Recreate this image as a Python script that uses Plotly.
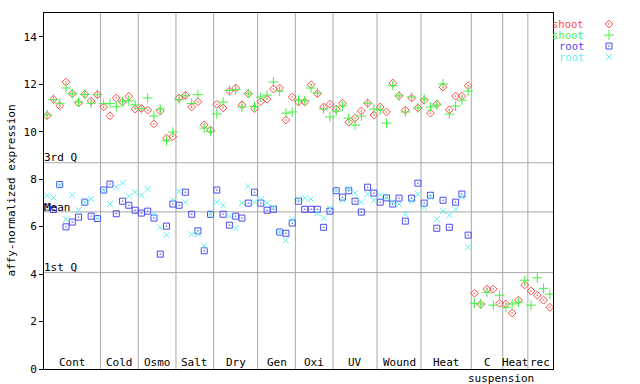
import plotly.graph_objects as go

# ---- data ----
group_names = ["Cont", "Cold", "Osmo", "Salt", "Dry", "Gen", "Oxi", "UV", "Wound", "Heat", "C", "Heat", "rec"]
group_sizes = [9, 6, 6, 6, 7, 6, 6, 7, 7, 8, 5, 4, 4]
sub_label = "suspension"

shoot_red = [10.68, 11.37, 11.09, 12.09, 11.60, 11.21, 11.58, 11.29, 11.56,
             11.04, 10.67, 11.42, 11.25, 11.49, 10.95,
             10.98, 10.91, 10.33, 10.87, 9.73, 9.79,
             11.42, 11.53, 11.04, 11.26, 10.29, 10.07,
             11.15, 11.00, 11.71, 11.84, 11.13, 11.60, 10.97,
             11.27, 11.37, 11.80, 11.84, 10.49, 11.46,
             11.25, 11.25, 11.98, 11.60, 11.04, 11.16,
             10.95, 11.20, 10.40, 10.57, 10.87, 11.20, 10.70,
             11.04, 10.83, 12.05, 11.51, 10.91, 11.42, 11.00,
             11.32, 10.78, 11.16, 11.88, 10.92, 11.50, 11.50, 11.94,
             3.19, 2.73, 3.37, 3.37, 2.77,
             2.74, 2.36, 2.90, 3.54,
             3.29, 3.11, 2.90, 2.60]

shoot_green = [10.71, 11.35, 11.20, 11.84, 11.60, 11.25, 11.57, 11.20, 11.56,
               11.18, 11.18, 11.05, 11.26, 11.30, 11.13,
               10.97, 11.42, 10.66, 10.95, 9.62, 9.98,
               11.35, 11.51, 11.19, 11.56, 10.15, 10.01,
               10.75, 11.25, 11.74, 11.77, 11.04, 11.60, 11.06,
               11.46, 11.54, 12.09, 11.71, 10.78, 10.83,
               11.33, 11.30, 11.84, 11.63, 10.95, 10.62,
               10.87, 11.08, 10.57, 10.28, 10.66, 11.20, 10.95,
               10.91, 10.36, 11.94, 11.51, 10.83, 11.46, 11.00,
               11.37, 11.04, 11.12, 12.01, 10.74, 11.08, 11.33, 11.71,
               2.77, 2.74, 3.23, 2.69, 3.11,
               2.60, 2.74, 2.81, 3.74,
               2.69, 3.84, 3.40, 3.15]

root_blue = [6.82, 6.72, 7.77, 5.99, 6.19, 6.40, 7.03, 6.44, 6.34,
             7.54, 7.79, 6.54, 7.07, 6.90, 6.69,
             6.57, 6.65, 6.36, 4.84, 6.02, 6.95,
             6.90, 7.45, 6.52, 5.82, 4.98, 6.52,
             7.54, 6.52, 6.06, 6.44, 6.36, 6.99, 7.45,
             6.99, 6.69, 6.73, 5.77, 5.72, 6.15,
             7.07, 6.73, 6.73, 6.73, 5.97, 6.65,
             7.51, 7.24, 7.51, 7.07, 6.61, 7.66, 7.41,
             7.03, 7.21, 6.95, 7.20, 6.23, 7.20, 7.83,
             6.99, 7.32, 5.93, 7.11, 5.97, 7.03, 7.37, 5.64,
             None, None, None, None, None,
             None, None, None, None,
             None, None, None, None]

root_cyan = [7.31, 7.22, 7.75, 6.31, 7.32, 6.69, 7.03, 7.16, 6.36,
             7.52, 6.95, 7.66, 7.83, 7.28, 7.45,
             7.32, 7.58, 6.52, 5.97, 5.64, 7.11,
             7.49, 7.03, 5.68, 5.68, 5.19, 6.52,
             7.03, 6.90, 6.44, 5.93, 6.99, 7.70, 7.03,
             7.16, 6.99, 6.82, 5.77, 5.42, 6.31,
             7.16, 7.20, 7.16, 6.57, 6.36, 6.78,
             7.53, 7.11, 7.59, 7.41, 7.03, 7.37, 7.11,
             7.32, 7.24, 7.03, 6.95, 6.52, 7.07, 7.37,
             6.82, 7.24, 6.31, 6.65, 6.48, 6.73, 7.24, 5.13,
             None, None, None, None, None,
             None, None, None, None,
             None, None, None, None]

q3_value = 8.69
mean_value = 6.62
q1_value = 4.06
ref_labels = ["3rd Q", "Mean", "1st Q"]

y_ticks = [0, 2, 4, 6, 8, 10, 12, 14]
legend_names = ["shoot", "shoot", "root", "root"]

# ---- styling ----
FONT = "DejaVu Sans Mono"
RED, GREEN, BLUE, CYAN = "#ff4c4c", "#44f044", "#4a4af2", "#5ef0f0"
GRID = "#a8a8a8"

n = len(shoot_red)
xs = [i + 0.5 for i in range(n)]

series = [
    (shoot_red, RED, "diamond-open-dot", 6),
    (shoot_green, GREEN, "cross-thin-open", 7),
    (root_blue, BLUE, "square-open-dot", 6),
    (root_cyan, CYAN, "x-thin-open", 6),
]

fig = go.Figure()
for vals, col, sym, sz in series:
    fig.add_trace(go.Scatter(
        x=xs, y=vals, mode="markers", showlegend=False, hoverinfo="skip",
        marker=dict(symbol=sym, size=sz, color=col, line=dict(color=col, width=1)),
        xaxis="x", yaxis="y",
    ))

# legend markers (right-hand legend area, pixel-like coordinates)
leg_y = [24, 35, 46, 57]
for (vals, col, sym, sz), ly, name in zip(series, leg_y, legend_names):
    fig.add_trace(go.Scatter(
        x=[609], y=[ly], mode="markers", showlegend=False, hoverinfo="skip",
        marker=dict(symbol=sym, size=sz, color=col, line=dict(color=col, width=1)),
        xaxis="x2", yaxis="y4",
    ))

shapes = []
# group separators
b = 0
bounds = []
for s in group_sizes[:-1]:
    b += s
    bounds.append(b)
for bx in bounds:
    shapes.append(dict(type="line", xref="x", yref="paper", x0=bx, x1=bx, y0=0, y1=1,
                       line=dict(color=GRID, width=1), layer="below"))
for v in (q3_value, mean_value, q1_value):
    shapes.append(dict(type="line", xref="x", yref="y", x0=0, x1=n, y0=v, y1=v,
                       line=dict(color=GRID, width=1), layer="below"))

annotations = []
# group labels
start = 0
for name, s in zip(group_names, group_sizes):
    c = start + s / 2
    annotations.append(dict(x=c, y=0.0175, xref="x", yref="paper", text=name, showarrow=False,
                            font=dict(family=FONT, size=11, color="black"),
                            xanchor="center", yanchor="middle"))
    if name == "C":
        annotations.append(dict(x=c + 2.3, y=-0.026, xref="x", yref="paper", text=sub_label,
                                showarrow=False, font=dict(family=FONT, size=11, color="black"),
                                xanchor="center", yanchor="middle"))
    start += s

for lab, v, sh in zip(ref_labels, (q3_value, mean_value, q1_value), (5, 4, 5)):
    annotations.append(dict(x=0, y=v, xref="x", yref="y", text=lab, showarrow=False,
                            font=dict(family=FONT, size=11, color="black"),
                            xanchor="left", yanchor="middle", yshift=sh, xshift=-2))

# legend text
for (vals, col, sym, sz), ly, name in zip(series, leg_y, legend_names):
    annotations.append(dict(x=586, y=ly, xref="x2", yref="y4", text=name, showarrow=False,
                            font=dict(family=FONT, size=10.5, color=col),
                            xanchor="right", yanchor="middle"))

# y-axis title
annotations.append(dict(x=-0.056, y=0.5, xref="paper", yref="paper",
                        text="affy-normalized expression", textangle=-90, showarrow=False,
                        font=dict(family=FONT, size=11, color="black"),
                        xanchor="center", yanchor="middle"))

xdom = 509 / 596
fig.update_layout(
    width=640, height=384,
    margin=dict(l=44, r=0, t=13, b=15),
    paper_bgcolor="white", plot_bgcolor="white",
    font=dict(family=FONT, size=11, color="black"),
    xaxis=dict(domain=[0, xdom], range=[0, n], showgrid=False, zeroline=False,
               showticklabels=False, ticks="", showline=True, linecolor="black",
               linewidth=1, mirror=True, fixedrange=True),
    yaxis=dict(range=[0, 15], tickvals=y_ticks, ticks="outside", ticklen=4,
               tickcolor="black", showgrid=False, zeroline=False, showline=True,
               linecolor="black", linewidth=1, mirror=True,
               tickfont=dict(family=FONT, size=11, color="black")),
    yaxis2=dict(range=[0, 15], tickvals=y_ticks, ticks="inside", ticklen=5,
                tickcolor="black", overlaying="y", side="right", anchor="x",
                showticklabels=False, showgrid=False, zeroline=False, showline=False),
    yaxis3=dict(range=[0, 15], tickvals=y_ticks, ticks="inside", ticklen=5,
                tickcolor="black", overlaying="y", side="left", anchor="x",
                showticklabels=False, showgrid=False, zeroline=False, showline=False),
    xaxis2=dict(domain=[xdom, 1], range=[553, 640], visible=False, anchor="y4"),
    yaxis4=dict(domain=[0, 1], range=[369, 13], visible=False, anchor="x2"),
    shapes=shapes,
    annotations=annotations,
)

fig.write_html("out.html", config={"displayModeBar": False},
               post_script="document.body.style.margin='0';document.body.style.overflow='hidden';")
